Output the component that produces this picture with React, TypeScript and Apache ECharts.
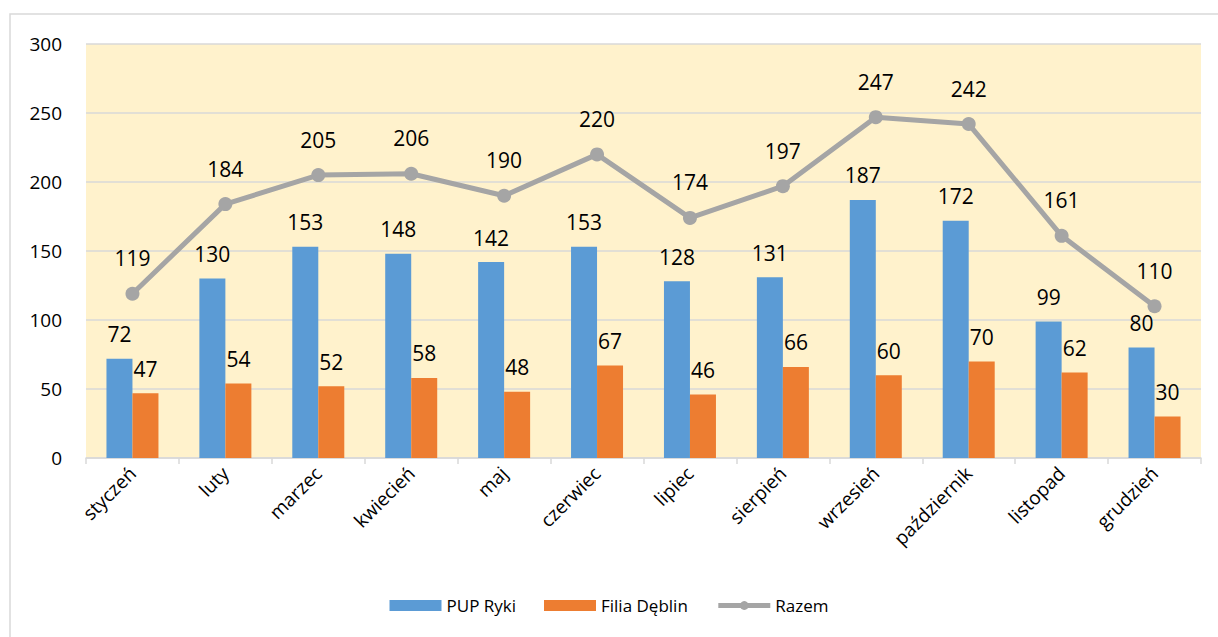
import React, { useEffect, useRef } from "react";
import * as echarts from "echarts";

const months = ["styczeń", "luty", "marzec", "kwiecień", "maj", "czerwiec", "lipiec", "sierpień", "wrzesień", "październik", "listopad", "grudzień"];
const pupRyki = [72, 130, 153, 148, 142, 153, 128, 131, 187, 172, 99, 80];
const filiaDeblin = [47, 54, 52, 58, 48, 67, 46, 66, 60, 70, 62, 30];
const razem = [119, 184, 205, 206, 190, 220, 174, 197, 247, 242, 161, 110];

const FONT = "'Open Sans', 'Noto Sans', sans-serif";

export default function App() {
  const ref = useRef<HTMLDivElement>(null);
  useEffect(() => {
    const chart = echarts.init(ref.current!, null, { renderer: "svg" });
    const labelStyle = { show: true, position: "top" as const, distance: 14, fontSize: 21, color: "#000", fontFamily: FONT };
    chart.setOption({
      animation: false,
      backgroundColor: "#fff",
      textStyle: { fontFamily: FONT },
      graphic: [
        { type: "rect", shape: { x: 10, y: 14, width: 1220, height: 640 }, style: { fill: "none", stroke: "#D9D9D9", lineWidth: 1.5 }, silent: true },
      ],
      grid: { left: 86, right: 17, top: 44, bottom: 179, show: true, backgroundColor: "#FFF2CC", borderWidth: 0 },
      legend: {
        bottom: 18,
        left: "center",
        itemWidth: 52,
        itemHeight: 11,
        itemGap: 28,
        textStyle: { fontSize: 17, color: "#000", fontFamily: FONT },
        data: [
          { name: "PUP Ryki", icon: "rect" },
          { name: "Filia Dęblin", icon: "rect" },
          { name: "Razem", itemStyle: { color: "#A5A5A5" }, lineStyle: { color: "#A5A5A5", width: 5 } },
        ],
      },
      xAxis: {
        type: "category",
        data: months,
        axisLine: { lineStyle: { color: "#D9D9D9", width: 1.5 } },
        axisTick: { show: true, length: 6, lineStyle: { color: "#D9D9D9", width: 1.5 } },
        axisLabel: { rotate: 45, fontSize: 19, color: "#000", margin: 12, fontFamily: FONT },
      },
      yAxis: {
        type: "value",
        min: 0,
        max: 300,
        interval: 50,
        axisLine: { show: false },
        axisTick: { show: false },
        splitLine: { lineStyle: { color: "#D9D9D9", width: 1.5 } },
        axisLabel: { fontSize: 19, color: "#000", margin: 24, fontFamily: FONT },
      },
      series: [
        {
          name: "PUP Ryki",
          type: "bar",
          data: pupRyki,
          itemStyle: { color: "#5B9BD5" },
          barWidth: 26,
          barGap: "0%",
          label: labelStyle,
        },
        {
          name: "Filia Dęblin",
          type: "bar",
          data: filiaDeblin,
          itemStyle: { color: "#ED7D31" },
          barWidth: 26,
          barGap: "0%",
          label: labelStyle,
        },
        {
          name: "Razem",
          type: "line",
          data: razem,
          symbol: "circle",
          symbolSize: 14,
          lineStyle: { color: "#A5A5A5", width: 5 },
          itemStyle: { color: "#A5A5A5" },
          label: { ...labelStyle, distance: 18 },
        },
      ],
    });
    return () => chart.dispose();
  }, []);
  return <div ref={ref} style={{ width: 1218, height: 637, position: "absolute", left: 0, top: 0 }} />;
}
